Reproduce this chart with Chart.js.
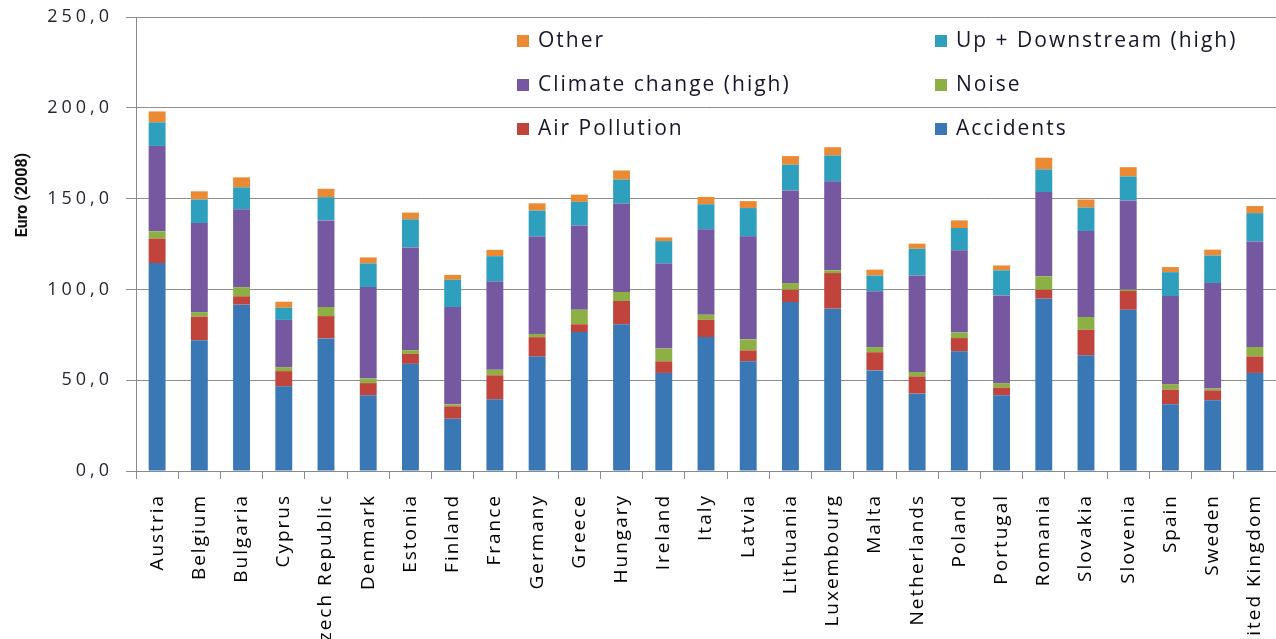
<!DOCTYPE html>
<html>
<head>
<meta charset="utf-8">
<style>
  body { margin: 0; background: #fff; }
</style>
</head>
<body>
<canvas id="miGrafico" width="1276" height="639"></canvas>
<script src="https://cdn.jsdelivr.net/npm/chart.js"></script>
<script>
    // Datos (Euro 2008)
    const paises = ['Austria', 'Belgium', 'Bulgaria', 'Cyprus', 'Czech Republic', 'Denmark', 'Estonia',
        'Finland', 'France', 'Germany', 'Greece', 'Hungary', 'Ireland', 'Italy', 'Latvia', 'Lithuania',
        'Luxembourg', 'Malta', 'Netherlands', 'Poland', 'Portugal', 'Romania', 'Slovakia', 'Slovenia',
        'Spain', 'Sweden', 'United Kingdom'];

    const accidentes = [114.5, 72, 91.6, 46.6, 73, 41.7, 59, 28.8, 39.5, 63, 76.5, 80.8, 54, 73.8, 60.4,
        93, 89.4, 55.4, 42.6, 65.9, 41.7, 94.9, 63.7, 88.8, 36.7, 38.9, 54];
    const contaminacion = [13.5, 13, 4.6, 8.4, 12.3, 6.7, 5.5, 6.8, 13.2, 10.7, 4.3, 12.8, 6.4, 9.5, 6,
        6.8, 19.6, 10, 9.5, 7.3, 4.2, 4.9, 14.1, 10.3, 8.1, 5.5, 9.1];
    const ruido = [4, 2.5, 5, 2.2, 5, 2.5, 2, 1.1, 3, 1.8, 8, 5, 7, 2.8, 6.1, 3.7, 1.5, 2.8, 2.4, 3, 2.5,
        7.4, 7, 0.7, 2.9, 1, 5.2];
    const clima = [47, 49, 43, 26, 47.7, 50.4, 56.6, 53.6, 48.6, 53.6, 46.4, 48.7, 46.8, 47, 56.7, 51,
        49, 30.8, 53.2, 45.3, 48.3, 46.4, 47.3, 49.2, 48.6, 58.1, 58.1];
    const upDown = [13, 13, 12, 6.7, 12.8, 13, 15.5, 15, 14, 14.3, 13, 13.2, 12.4, 13.8, 15.6, 14.2,
        14.3, 8.6, 14.7, 12.3, 13.8, 12.5, 13, 13.2, 13.2, 15.2, 15.6];
    const otros = [6, 4.5, 5.5, 3.3, 4.6, 3.3, 3.7, 2.7, 3.5, 4, 4, 5, 2, 4, 3.8, 4.7, 4.5, 3.3, 2.8,
        4.2, 2.7, 6.4, 4.4, 5.1, 2.8, 3.2, 3.9];

    const ticksY = [0, 50, 100, 150, 200, 250];
    const tituloY = 'Euro (2008)';

    // Formato con coma decimal
    function formatearNumero(v) {
        return v.toFixed(1).replace('.', ',');
    }

    // Espaciado de letras para imitar el texto ancho del original
    function conEspaciado(escala, espacio) {
        if (escala._conEspaciado) return;
        const original = escala.drawLabels;
        escala.drawLabels = function (area) {
            this.ctx.save();
            this.ctx.letterSpacing = espacio;
            original.call(this, area);
            this.ctx.restore();
        };
        escala._conEspaciado = true;
    }

    // Leyenda en dos columnas dentro del area del grafico
    const leyendaInterna = {
        id: 'leyendaInterna',
        beforeDraw(chart) {
            conEspaciado(chart.scales.y, '4px');
            conEspaciado(chart.scales.x, '2px');
        },
        afterDraw(chart) {
            const ctx = chart.ctx;
            const area = chart.chartArea;
            // orden de la leyenda: Other, Up+Down, Climate, Noise, Air, Accidents
            const orden = [5, 4, 3, 2, 1, 0];
            ctx.save();
            ctx.font = '21px "Open Sans"';
            ctx.letterSpacing = '2px';
            ctx.textBaseline = 'middle';
            orden.forEach((idx, i) => {
                const ds = chart.data.datasets[idx];
                const col = i % 2;
                const fila = Math.floor(i / 2);
                const x = area.left + (col === 0 ? 381 : 799);
                const y = area.top + 24 + fila * 44;
                ctx.fillStyle = ds.backgroundColor;
                ctx.fillRect(x, y - 6, 12, 12);
                ctx.fillStyle = '#16162a';
                ctx.fillText(ds.label, x + 21, y);
            });
            // titulo del eje Y
            ctx.letterSpacing = '0px';
            ctx.font = 'bold 16px Roboto';
            ctx.fillStyle = '#111';
            ctx.textAlign = 'center';
            ctx.translate(23, area.top + (area.bottom - area.top) * 0.392);
            ctx.rotate(-Math.PI / 2);
            ctx.fillText(tituloY, 0, 0);
            ctx.restore();
        }
    };

    function crearGrafico() {
        const ctx = document.getElementById('miGrafico').getContext('2d');
        new Chart(ctx, {
            type: 'bar',
            data: {
                labels: paises,
                datasets: [
                    { label: 'Accidents', data: accidentes, backgroundColor: '#3A77B5' },
                    { label: 'Air Pollution', data: contaminacion, backgroundColor: '#C0433C' },
                    { label: 'Noise', data: ruido, backgroundColor: '#8CB043' },
                    { label: 'Climate change (high)', data: clima, backgroundColor: '#7558A0' },
                    { label: 'Up + Downstream (high)', data: upDown, backgroundColor: '#2F9FBE' },
                    { label: 'Other', data: otros, backgroundColor: '#EC8A33' }
                ]
            },
            options: {
                responsive: false,
                animation: false,
                layout: { padding: { top: 17, right: 0, left: 0, bottom: 0 } },
                datasets: {
                    bar: { categoryPercentage: 1, barPercentage: 0.4 }
                },
                plugins: {
                    legend: { display: false },
                    tooltip: { enabled: false }
                },
                scales: {
                    x: {
                        stacked: true,
                        grid: { display: true, drawOnChartArea: false, offset: true, tickLength: 8, color: '#8a8a8a' },
                        border: { display: true, color: '#8a8a8a' },
                        ticks: {
                            minRotation: 90, maxRotation: 90, autoSkip: false, padding: 15,
                            color: '#000', font: { family: 'Open Sans', size: 19 }
                        },
                        afterFit(s) {
                            s.height = 168;
                            s.paddingLeft = 0;
                            s.paddingRight = 0;
                        }
                    },
                    y: {
                        stacked: true,
                        min: 0,
                        max: 250,
                        afterBuildTicks(s) {
                            s.ticks = ticksY.map(v => ({ value: v }));
                        },
                        grid: { color: '#8f8f8f', tickLength: 10 },
                        border: { display: true, color: '#8a8a8a' },
                        ticks: {
                            padding: 13,
                            color: '#262630',
                            font: { family: 'Open Sans', size: 18 },
                            callback: v => formatearNumero(v)
                        },
                        afterFit(s) {
                            s.width = 136;
                            s.paddingTop = 0;
                            s.paddingBottom = 0;
                        }
                    }
                }
            },
            plugins: [leyendaInterna]
        });
    }

    document.addEventListener('DOMContentLoaded', () => {
        crearGrafico();
    });
</script>
</body>
</html>
